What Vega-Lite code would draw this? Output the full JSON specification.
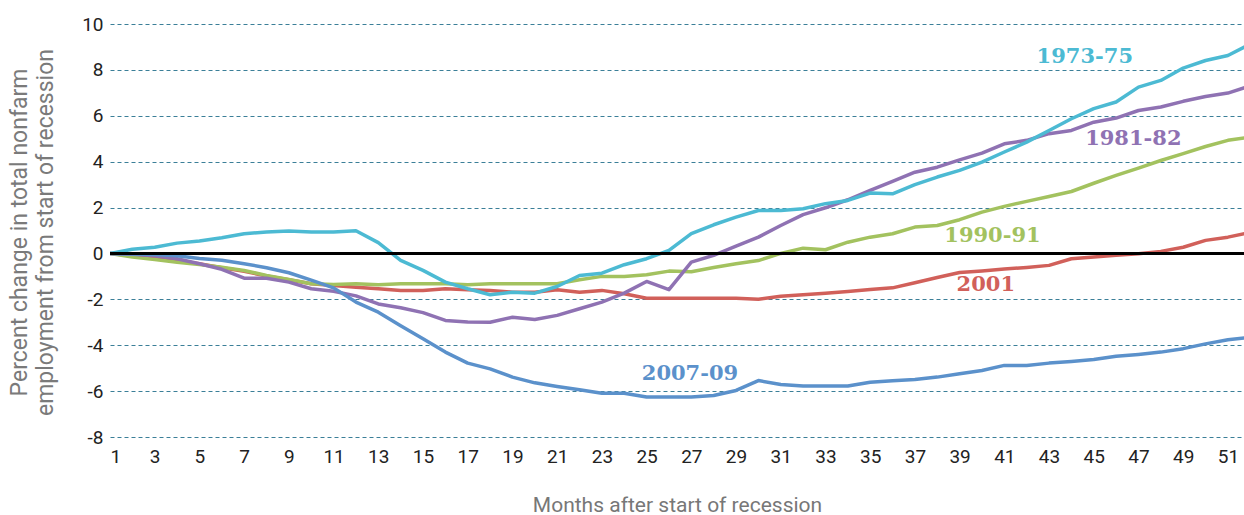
{
  "$schema": "https://vega.github.io/schema/vega-lite/v6.json",
  "width": 1134,
  "height": 413,
  "autosize": {"type": "none"},
  "padding": {"left": 110, "top": 24, "right": 0, "bottom": 78},
  "background": "white",
  "config": {
    "view": {"stroke": null},
    "axis": {"labelFont": "Roboto", "titleFont": "Roboto", "titleFontWeight": "normal"}
  },
  "datasets": {
    "lines": [
      {"month": 1, "1973-75": 0, "1981-82": 0, "1990-91": 0, "2001": 0, "2007-09": 0},
      {"month": 2, "1973-75": 0.18, "1981-82": -0.03, "1990-91": -0.16, "2001": -0.1, "2007-09": -0.02},
      {"month": 3, "1973-75": 0.27, "1981-82": -0.1, "1990-91": -0.26, "2001": -0.2, "2007-09": -0.05},
      {"month": 4, "1973-75": 0.45, "1981-82": -0.23, "1990-91": -0.38, "2001": -0.32, "2007-09": -0.1},
      {"month": 5, "1973-75": 0.54, "1981-82": -0.45, "1990-91": -0.48, "2001": -0.45, "2007-09": -0.22},
      {"month": 6, "1973-75": 0.68, "1981-82": -0.69, "1990-91": -0.6, "2001": -0.62, "2007-09": -0.3},
      {"month": 7, "1973-75": 0.86, "1981-82": -1.08, "1990-91": -0.74, "2001": -0.78, "2007-09": -0.45},
      {"month": 8, "1973-75": 0.93, "1981-82": -1.08, "1990-91": -0.96, "2001": -0.98, "2007-09": -0.62},
      {"month": 9, "1973-75": 0.98, "1981-82": -1.25, "1990-91": -1.13, "2001": -1.15, "2007-09": -0.84},
      {"month": 10, "1973-75": 0.93, "1981-82": -1.54, "1990-91": -1.32, "2001": -1.32, "2007-09": -1.16},
      {"month": 11, "1973-75": 0.93, "1981-82": -1.65, "1990-91": -1.35, "2001": -1.4, "2007-09": -1.5},
      {"month": 12, "1973-75": 0.99, "1981-82": -1.85, "1990-91": -1.32, "2001": -1.47, "2007-09": -2.12},
      {"month": 13, "1973-75": 0.47, "1981-82": -2.2, "1990-91": -1.36, "2001": -1.54, "2007-09": -2.56},
      {"month": 14, "1973-75": -0.3, "1981-82": -2.37, "1990-91": -1.32, "2001": -1.61, "2007-09": -3.15},
      {"month": 15, "1973-75": -0.74, "1981-82": -2.58, "1990-91": -1.32, "2001": -1.61, "2007-09": -3.72},
      {"month": 16, "1973-75": -1.25, "1981-82": -2.92, "1990-91": -1.32, "2001": -1.54, "2007-09": -4.3},
      {"month": 17, "1973-75": -1.54, "1981-82": -2.99, "1990-91": -1.36, "2001": -1.58, "2007-09": -4.78},
      {"month": 18, "1973-75": -1.8, "1981-82": -3.0, "1990-91": -1.32, "2001": -1.61, "2007-09": -5.03},
      {"month": 19, "1973-75": -1.69, "1981-82": -2.78, "1990-91": -1.32, "2001": -1.69, "2007-09": -5.39},
      {"month": 20, "1973-75": -1.73, "1981-82": -2.88, "1990-91": -1.32, "2001": -1.69, "2007-09": -5.64},
      {"month": 21, "1973-75": -1.44, "1981-82": -2.7, "1990-91": -1.32, "2001": -1.58, "2007-09": -5.8},
      {"month": 22, "1973-75": -0.96, "1981-82": -2.41, "1990-91": -1.15, "2001": -1.69, "2007-09": -5.94},
      {"month": 23, "1973-75": -0.86, "1981-82": -2.12, "1990-91": -1.0, "2001": -1.61, "2007-09": -6.09},
      {"month": 24, "1973-75": -0.49, "1981-82": -1.73, "1990-91": -1.0, "2001": -1.76, "2007-09": -6.09},
      {"month": 25, "1973-75": -0.23, "1981-82": -1.22, "1990-91": -0.93, "2001": -1.95, "2007-09": -6.26},
      {"month": 26, "1973-75": 0.13, "1981-82": -1.58, "1990-91": -0.77, "2001": -1.95, "2007-09": -6.26},
      {"month": 27, "1973-75": 0.86, "1981-82": -0.38, "1990-91": -0.8, "2001": -1.95, "2007-09": -6.26},
      {"month": 28, "1973-75": 1.25, "1981-82": -0.08, "1990-91": -0.61, "2001": -1.95, "2007-09": -6.19},
      {"month": 29, "1973-75": 1.58, "1981-82": 0.32, "1990-91": -0.45, "2001": -1.95, "2007-09": -5.97},
      {"month": 30, "1973-75": 1.87, "1981-82": 0.71, "1990-91": -0.31, "2001": -2.0, "2007-09": -5.54},
      {"month": 31, "1973-75": 1.87, "1981-82": 1.22, "1990-91": 0.0, "2001": -1.87, "2007-09": -5.71},
      {"month": 32, "1973-75": 1.95, "1981-82": 1.69, "1990-91": 0.23, "2001": -1.8, "2007-09": -5.78},
      {"month": 33, "1973-75": 2.17, "1981-82": 1.99, "1990-91": 0.16, "2001": -1.73, "2007-09": -5.78},
      {"month": 34, "1973-75": 2.31, "1981-82": 2.34, "1990-91": 0.49, "2001": -1.66, "2007-09": -5.78},
      {"month": 35, "1973-75": 2.63, "1981-82": 2.75, "1990-91": 0.71, "2001": -1.57, "2007-09": -5.61},
      {"month": 36, "1973-75": 2.6, "1981-82": 3.14, "1990-91": 0.86, "2001": -1.5, "2007-09": -5.55},
      {"month": 37, "1973-75": 3.0, "1981-82": 3.54, "1990-91": 1.15, "2001": -1.28, "2007-09": -5.49},
      {"month": 38, "1973-75": 3.33, "1981-82": 3.76, "1990-91": 1.22, "2001": -1.05, "2007-09": -5.39},
      {"month": 39, "1973-75": 3.62, "1981-82": 4.08, "1990-91": 1.47, "2001": -0.83, "2007-09": -5.24},
      {"month": 40, "1973-75": 3.98, "1981-82": 4.37, "1990-91": 1.8, "2001": -0.76, "2007-09": -5.1},
      {"month": 41, "1973-75": 4.42, "1981-82": 4.78, "1990-91": 2.05, "2001": -0.68, "2007-09": -4.88},
      {"month": 42, "1973-75": 4.85, "1981-82": 4.93, "1990-91": 2.27, "2001": -0.61, "2007-09": -4.88},
      {"month": 43, "1973-75": 5.36, "1981-82": 5.22, "1990-91": 2.48, "2001": -0.52, "2007-09": -4.78},
      {"month": 44, "1973-75": 5.87, "1981-82": 5.36, "1990-91": 2.7, "2001": -0.23, "2007-09": -4.71},
      {"month": 45, "1973-75": 6.31, "1981-82": 5.72, "1990-91": 3.06, "2001": -0.15, "2007-09": -4.62},
      {"month": 46, "1973-75": 6.6, "1981-82": 5.9, "1990-91": 3.4, "2001": -0.08, "2007-09": -4.48},
      {"month": 47, "1973-75": 7.25, "1981-82": 6.23, "1990-91": 3.72, "2001": -0.01, "2007-09": -4.4},
      {"month": 48, "1973-75": 7.54, "1981-82": 6.38, "1990-91": 4.05, "2001": 0.09, "2007-09": -4.3},
      {"month": 49, "1973-75": 8.08, "1981-82": 6.63, "1990-91": 4.35, "2001": 0.27, "2007-09": -4.15},
      {"month": 50, "1973-75": 8.41, "1981-82": 6.84, "1990-91": 4.66, "2001": 0.57, "2007-09": -3.94},
      {"month": 51, "1973-75": 8.63, "1981-82": 6.99, "1990-91": 4.93, "2001": 0.71, "2007-09": -3.76},
      {"month": 52, "1973-75": 9.13, "1981-82": 7.3, "1990-91": 5.07, "2001": 0.92, "2007-09": -3.66}
    ],
    "labels": [
      {"series": "1973-75", "month": 44.6, "value": 8.56},
      {"series": "1981-82", "month": 46.77, "value": 5.0},
      {"series": "1990-91", "month": 40.47, "value": 0.78},
      {"series": "2001", "month": 40.17, "value": -1.39},
      {"series": "2007-09", "month": 26.94, "value": -5.25}
    ]
  },
  "layer": [
    {
      "data": {"name": "lines"},
      "transform": [{"fold": ["2001", "1990-91", "1981-82", "2007-09", "1973-75"], "as": ["series", "value"]}],
      "mark": {"type": "line", "strokeWidth": 3.5, "clip": true, "strokeJoin": "round"},
      "encoding": {
        "x": {
          "field": "month", "type": "quantitative",
          "scale": {"domain": [1, 51.72], "nice": false, "zero": false},
          "axis": {
            "values": [1,3,5,7,9,11,13,15,17,19,21,23,25,27,29,31,33,35,37,39,41,43,45,47,49,51],
            "grid": false, "domain": false, "ticks": false,
            "labelFontSize": 19, "labelColor": "#222222", "labelPadding": 10,
            "title": "Months after start of recession",
            "titleFontSize": 21, "titleColor": "#777777", "titlePadding": 28
          }
        },
        "y": {
          "field": "value", "type": "quantitative",
          "scale": {"domain": [-8, 10], "nice": false},
          "axis": {
            "values": [-8,-6,-4,-2,0,2,4,6,8,10],
            "labelExpr": "'' + datum.value",
            "grid": true, "gridDash": [4, 3], "gridColor": "#3b7f98", "gridWidth": 1,
            "domain": false, "ticks": false,
            "labelFontSize": 19, "labelColor": "#222222", "labelPadding": 7,
            "title": ["Percent change in total nonfarm", "employment from start of recession"],
            "titleFontSize": 23, "titleColor": "#7a7a7a", "titleLineHeight": 26,
            "titleX": -79, "titleY": 208
          }
        },
        "color": {
          "field": "series", "type": "nominal",
          "scale": {"domain": ["1973-75", "1981-82", "1990-91", "2001", "2007-09"], "range": ["#4cbad3", "#8f72b3", "#a3c25f", "#d1605a", "#5b91cb"]},
          "legend": null
        }
      }
    },
    {
      "data": {"values": [{}]},
      "mark": {"type": "rule", "color": "black", "strokeWidth": 3},
      "encoding": {"y": {"datum": 0}}
    },
    {
      "data": {"name": "labels"},
      "mark": {"type": "text", "font": "DejaVu Serif", "fontWeight": "bold", "fontSize": 21, "align": "center", "baseline": "middle"},
      "encoding": {
        "x": {"field": "month", "type": "quantitative"},
        "y": {"field": "value", "type": "quantitative"},
        "text": {"field": "series"},
        "color": {"field": "series", "type": "nominal", "legend": null}
      }
    }
  ]
}
